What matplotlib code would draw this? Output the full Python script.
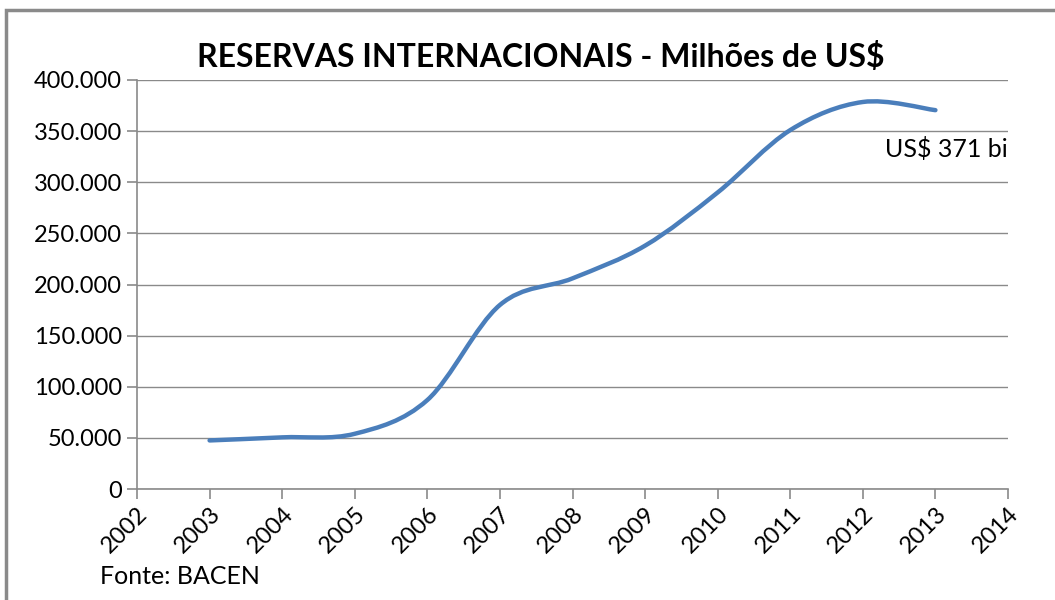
import matplotlib
matplotlib.use("Agg")
import matplotlib.pyplot as plt
from matplotlib.path import Path
from matplotlib.patches import PathPatch, Rectangle
from matplotlib.ticker import FuncFormatter
import numpy as np

years = [2003, 2004, 2005, 2006, 2007, 2008, 2009, 2010, 2011, 2012, 2013]
reserves = [47500, 50500, 54000, 87000, 180000, 206000, 238000, 290000, 351000, 378500, 370500]
title = "RESERVAS INTERNACIONAIS - Milhões de US$"
note = "US$ 371 bi"
source = "Fonte: BACEN"

plt.rcParams['font.family'] = ['Lato', 'DejaVu Sans']

W, H = 1055, 600
fig = plt.figure(figsize=(W / 100, H / 100), dpi=100)
fig.patch.set_facecolor('white')

# outer frame
fig.add_artist(Rectangle((6 / W, -0.1), 1.2, (H - 10) / H + 0.1, transform=fig.transFigure,
                         fill=False, edgecolor='#8a8a8a', linewidth=2.5))

ax = fig.add_axes([137 / W, 1 - 489 / H, (1008 - 137) / W, (489 - 80) / H])
ax.set_xlim(2002, 2014)
ax.set_ylim(0, 400000)

# smoothed line (Excel-style Bezier through the points)
x = np.array(years, dtype=float)
y = np.array(reserves, dtype=float)
n = len(x)
verts = [(x[0], y[0])]
codes = [Path.MOVETO]
for i in range(n - 1):
    i0 = max(i - 1, 0)
    i3 = min(i + 2, n - 1)
    c1 = (x[i] + (x[i + 1] - x[i0]) / 6, y[i] + (y[i + 1] - y[i0]) / 6)
    c2 = (x[i + 1] - (x[i3] - x[i]) / 6, y[i + 1] - (y[i3] - y[i]) / 6)
    verts += [c1, c2, (x[i + 1], y[i + 1])]
    codes += [Path.CURVE4] * 3
ax.add_patch(PathPatch(Path(verts, codes), fill=False, edgecolor='#4a7ebb',
                       linewidth=3.2, capstyle='round', joinstyle='round', zorder=3))

ax.set_yticks(np.arange(0, 400001, 50000))
ax.set_xticks(np.arange(2002, 2015, 1))
ax.yaxis.set_major_formatter(FuncFormatter(lambda v, p: f"{int(v):,}".replace(",", ".")))
ax.grid(axis='y', color='#8a8a8a', linewidth=1)
ax.set_axisbelow(True)
for s in ['top', 'right']:
    ax.spines[s].set_visible(False)
for s in ['left', 'bottom']:
    ax.spines[s].set_color('#8a8a8a')
    ax.spines[s].set_linewidth(1.2)
ax.tick_params(axis='both', colors='#8a8a8a', labelcolor='black', labelsize=17,
               length=7, width=1.2, direction='out')
ax.tick_params(axis='y', pad=4)
for lab in ax.get_xticklabels():
    lab.set_rotation(45)
    lab.set_ha('right')
    lab.set_va('top')
    lab.set_rotation_mode('anchor')

ax.text(2012.3, 333000, note, fontsize=18, ha='left', va='center')

fig.text(0.5 + 0.013, 1 - 57 / H, title, fontsize=23, fontweight='bold', ha='center', va='center')
fig.text(100 / W, 1 - 577 / H, source, fontsize=18, ha='left', va='center')

fig.savefig('out.png', dpi=100, facecolor='white')
